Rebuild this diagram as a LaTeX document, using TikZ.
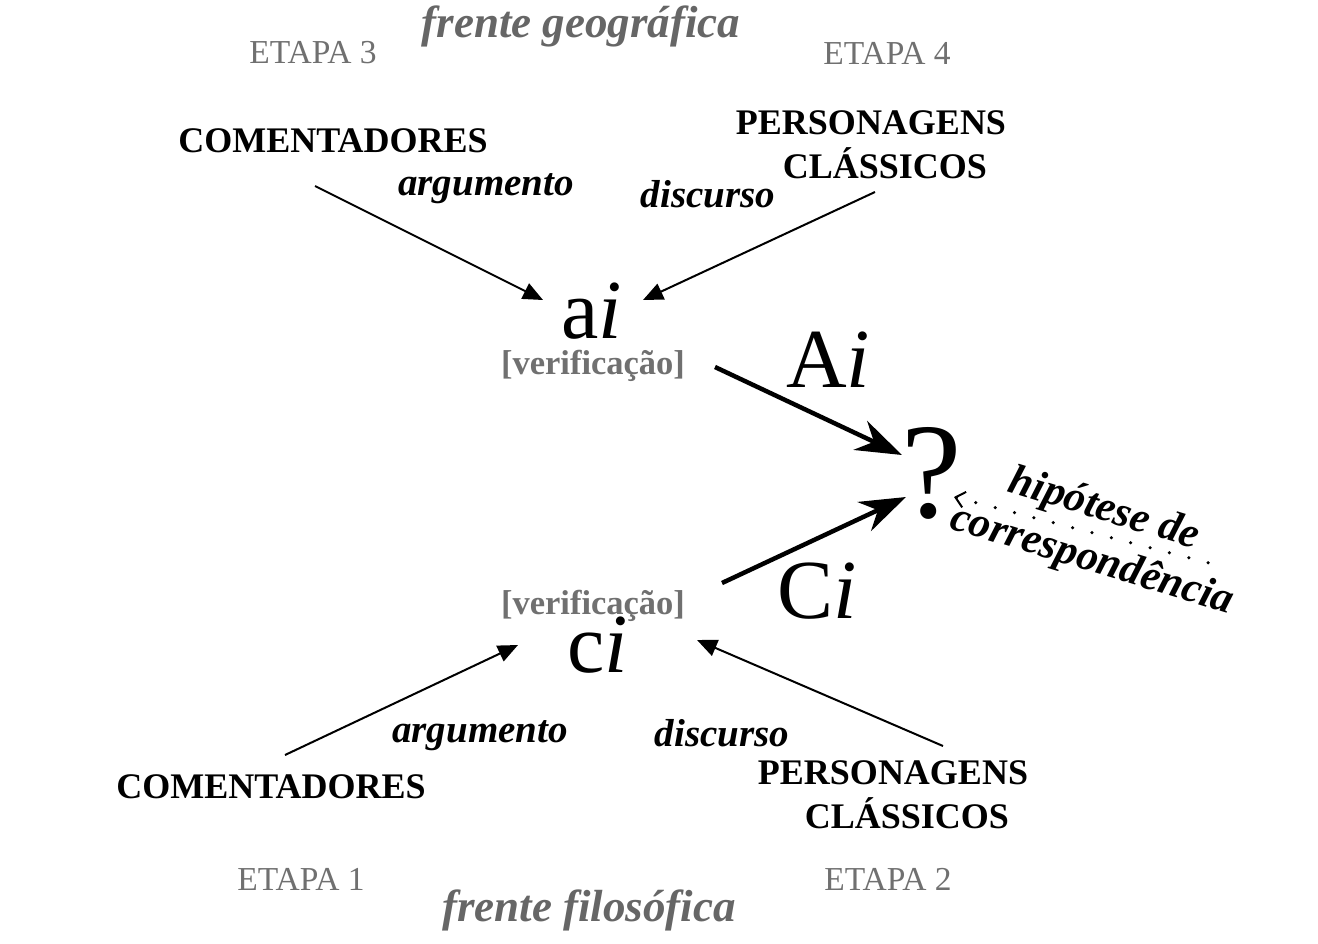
\documentclass[tikz,border=0pt]{standalone}
\usepackage{fontspec}
\setmainfont{Liberation Serif}
\usetikzlibrary{arrows.meta,calc}
\definecolor{grayA}{HTML}{707070}
\definecolor{grayB}{HTML}{666666}
\tikzset{
  etapa/.style={inner sep=0pt, text=grayA, font=\fontsize{33.5}{38}\selectfont},
  frente/.style={inner sep=0pt, text=grayB, font=\fontsize{45}{50}\selectfont\bfseries\itshape},
  actor/.style={inner sep=0pt, align=center, font=\fontsize{36}{44}\selectfont\bfseries},
  rel/.style={inner sep=0pt, font=\fontsize{39}{44}\selectfont\bfseries\itshape},
  verif/.style={inner sep=0pt, text=grayA, font=\fontsize{34.5}{38}\selectfont\bfseries},
  big/.style={inner sep=0pt, font=\fontsize{84}{90}\selectfont},
  qmark/.style={inner sep=0pt, font=\fontsize{136}{140}\selectfont},
  hyp/.style={inner sep=0pt, rotate=-17, font=\fontsize{43}{46}\selectfont\bfseries\itshape},
  thin/.style={line width=2pt, -{Triangle[length=20pt,width=17pt]}},
  thick/.style={line width=4.5pt, -{Stealth[length=46pt,width=32pt,inset=15pt]}},
  dots/.style={line width=3.5pt, line cap=round, dash pattern=on 0pt off 20pt, {Straight Barb[length=9pt,width=16pt,line width=2pt]}-}
}
\begin{document}
\begin{tikzpicture}[x=1pt,y=-1pt]
\useasboundingbox (0,0) rectangle (1318,943);
\fill[white] (0,0) rectangle (1318,943);
% top half
\node[frente] (fg) at (581,26) {frente geográfica};
\node[etapa] (e3) at (313,53) {ETAPA 3};
\node[etapa] (e4) at (887,53) {ETAPA 4};
\node[actor] (com1) at (333,141) {COMENTADORES};
\node[actor] (pc1) at (871,145) {PERSONAGENS\\\hspace*{28pt}CLÁSSICOS};
\node[rel] (arg1) at (486,189) {argumento};
\node[rel] (dis1) at (708,194) {discurso};
\node[big, anchor=base] (ai) at (592,338) {a\textit{i}};
\node[verif, anchor=base] (ver1) at (593,374) {[verificação]};
\node[big, anchor=base] (Ai) at (828,387) {A\textit{i}};
\node[qmark, anchor=base] (q) at (932,517) {?};
\node[hyp] (h1) at (1104,510) {hipótese de};
\node[hyp] (h2) at (1092,561) {correspondência};
% bottom half
\node[big, anchor=base] (Ci) at (817,618) {C\textit{i}};
\node[verif, anchor=base] (ver2) at (593,614) {[verificação]};
\node[big, anchor=base] (ci) at (598,672) {c\textit{i}};
\node[rel] (arg2) at (480,736) {argumento};
\node[rel] (dis2) at (722,733) {discurso};
\node[actor] (com2) at (271,787) {COMENTADORES};
\node[actor] (pc2) at (893,795) {PERSONAGENS\\\hspace*{28pt}CLÁSSICOS};
\node[etapa] (e1) at (301,879) {ETAPA 1};
\node[etapa] (e2) at (888,879) {ETAPA 2};
\node[frente] (ff) at (589,910) {frente filosófica};
% connectors
\draw[thin] ($(com1.center)+(-18,45)$) -- ($(ai.base)+(-49,-38)$);
\draw[thin] ($(pc1.center)+(4,47)$) -- ($(ai.base)+(51,-38)$);
\draw[thick] ($(ver1.base)+(122,-7)$) -- ($(q.base)+(-30,-62)$);
\draw[thick] ($(ver2.base)+(129,-31)$) -- ($(q.base)+(-26,-20)$);
\draw[thin] ($(com2.center)+(14,-32)$) -- ($(ci.base)+(-80,-27)$);
\draw[thin] ($(pc2.center)+(50,-49)$) -- ($(ci.base)+(99,-32)$);
\draw[dots] ($(q.base)+(22,-20)$) -- ($(h2.center)+(117,2)$);
\end{tikzpicture}
\end{document}
